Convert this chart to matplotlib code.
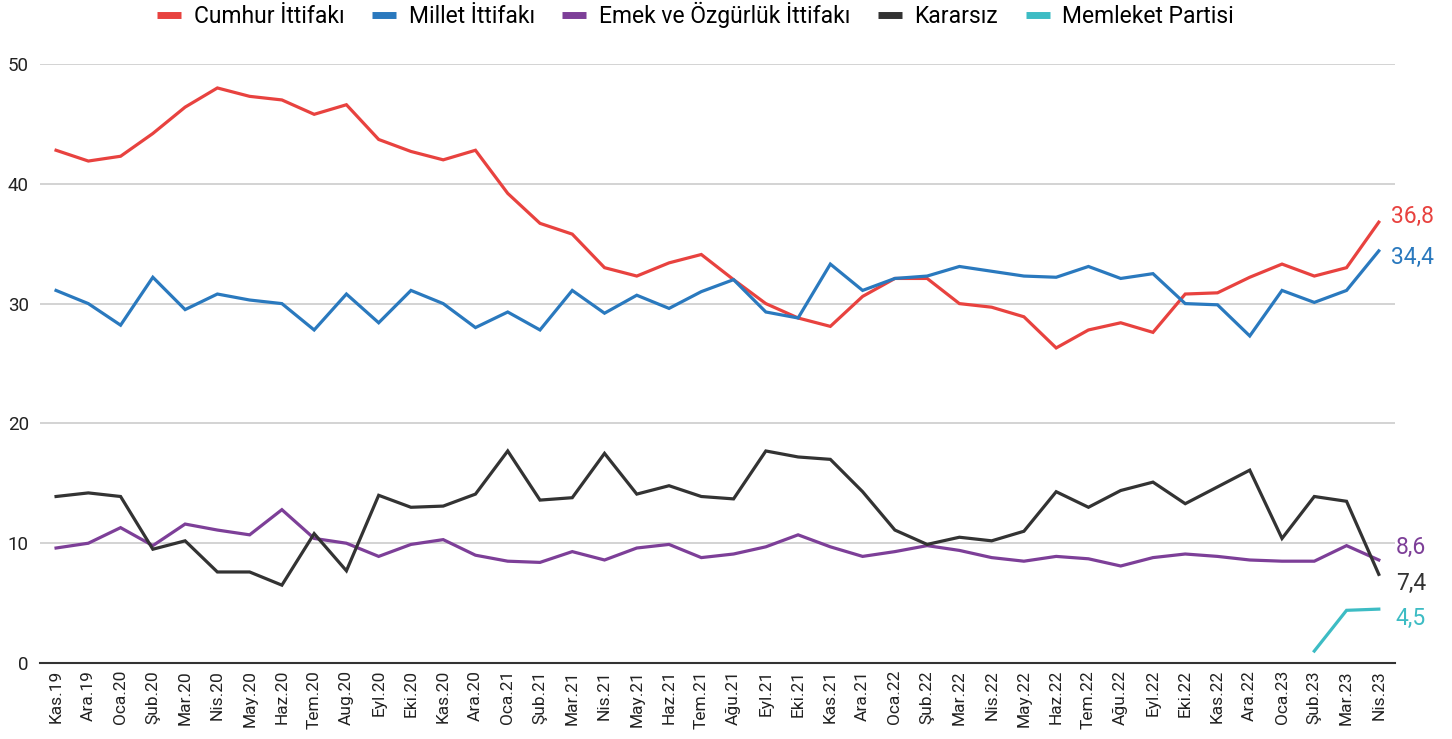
import matplotlib
matplotlib.use("Agg")
import matplotlib.pyplot as plt
from matplotlib.lines import Line2D

plt.rcParams['font.family'] = ['Roboto', 'DejaVu Sans']

months = ["Kas.19", "Ara.19", "Oca.20", "Şub.20", "Mar.20", "Nis.20", "May.20", "Haz.20",
          "Tem.20", "Aug.20", "Eyl.20", "Eki.20", "Kas.20", "Ara.20", "Oca.21", "Şub.21",
          "Mar.21", "Nis.21", "May.21", "Haz.21", "Tem.21", "Ağu.21", "Eyl.21", "Eki.21",
          "Kas.21", "Ara.21", "Oca.22", "Şub.22", "Mar.22", "Nis.22", "May.22", "Haz.22",
          "Tem.22", "Ağu.22", "Eyl.22", "Eki.22", "Kas.22", "Ara.22", "Oca.23", "Şub.23",
          "Mar.23", "Nis.23"]

cumhur = [42.8, 41.9, 42.3, 44.2, 46.4, 48.0, 47.3, 47.0, 45.8, 46.6, 43.7, 42.7, 42.0, 42.8,
          39.2, 36.7, 35.8, 33.0, 32.3, 33.4, 34.1, 32.0, 30.0, 28.8, 28.1, 30.6, 32.1, 32.1,
          30.0, 29.7, 28.9, 26.3, 27.8, 28.4, 27.6, 30.8, 30.9, 32.2, 33.3, 32.3, 33.0, 36.8]

millet = [31.1, 30.0, 28.2, 32.2, 29.5, 30.8, 30.3, 30.0, 27.8, 30.8, 28.4, 31.1, 30.0, 28.0,
          29.3, 27.8, 31.1, 29.2, 30.7, 29.6, 31.0, 32.0, 29.3, 28.8, 33.3, 31.1, 32.1, 32.3,
          33.1, 32.7, 32.3, 32.2, 33.1, 32.1, 32.5, 30.0, 29.9, 27.3, 31.1, 30.1, 31.1, 34.4]

emek = [9.6, 10.0, 11.3, 9.8, 11.6, 11.1, 10.7, 12.8, 10.4, 10.0, 8.9, 9.9, 10.3, 9.0,
        8.5, 8.4, 9.3, 8.6, 9.6, 9.9, 8.8, 9.1, 9.7, 10.7, 9.7, 8.9, 9.3, 9.8,
        9.4, 8.8, 8.5, 8.9, 8.7, 8.1, 8.8, 9.1, 8.9, 8.6, 8.5, 8.5, 9.8, 8.6]

kararsiz = [13.9, 14.2, 13.9, 9.5, 10.2, 7.6, 7.6, 6.5, 10.8, 7.7, 14.0, 13.0, 13.1, 14.1,
            17.7, 13.6, 13.8, 17.5, 14.1, 14.8, 13.9, 13.7, 17.7, 17.2, 17.0, 14.3, 11.1, 9.9,
            10.5, 10.2, 11.0, 14.3, 13.0, 14.4, 15.1, 13.3, 14.7, 16.1, 10.4, 13.9, 13.5, 7.4]

memleket_months = ["Şub.23", "Mar.23", "Nis.23"]
memleket = [1.0, 4.4, 4.5]

series = [
    ("Cumhur İttifakı", cumhur, "#E8423F", months),
    ("Millet İttifakı", millet, "#2A79BE", months),
    ("Emek ve Özgürlük İttifakı", emek, "#7D3F98", months),
    ("Kararsız", kararsiz, "#333333", months),
    ("Memleket Partisi", memleket, "#3DBCC4", memleket_months),
]

fig = plt.figure(figsize=(14.52, 7.39), dpi=100)
ax = fig.add_axes([0.0275, 0.1028, 0.9332, 0.8106])

idx = {m: i for i, m in enumerate(months)}
handles = []
for name, vals, color, mlist in series:
    xs = [idx[m] for m in mlist]
    ax.plot(xs, vals, color=color, lw=2.3, solid_joinstyle='miter', zorder=3)
    handles.append(Line2D([0], [0], color=color, lw=5, solid_capstyle='butt'))

# end labels (pixel offsets: dx, dy)
offsets = {"Cumhur İttifakı": (12, 6), "Millet İttifakı": (12, -7),
           "Emek ve Özgürlük İttifakı": (17, 13), "Kararsız": (17, -9),
           "Memleket Partisi": (17, -9)}
for name, vals, color, mlist in series:
    dx, dy = offsets[name]
    ax.annotate(f"{vals[-1]:.1f}".replace(".", ","),
                xy=(idx[mlist[-1]], vals[-1]), xytext=(dx, dy), textcoords='offset pixels',
                color=color, fontsize=16.5, va='center', ha='left',
                annotation_clip=False)

ax.set_xlim(-0.5, len(months) - 0.5)
ax.set_ylim(0, 50)
ax.set_yticks([0, 10, 20, 30, 40, 50])
ax.set_xticks(range(len(months)))
ax.set_xticklabels(months, rotation=90, fontsize=12.5, color="#222222")
ax.tick_params(axis='y', labelsize=13.5, colors="#222222", length=0, pad=8)
ax.tick_params(axis='x', length=0, pad=5)
ax.grid(axis='y', color="#CCCCCC", lw=1.2)
ax.set_axisbelow(True)
for s in ['top', 'right', 'left']:
    ax.spines[s].set_visible(False)
ax.spines['bottom'].set_color("#333333")
ax.spines['bottom'].set_linewidth(1.5)

fig.legend(handles, [s[0] for s in series], loc='upper center', bbox_to_anchor=(0.479, 1.025),
           ncol=5, frameon=False, fontsize=16.5, handlelength=1.05, columnspacing=1.2,
           handletextpad=0.55)

fig.savefig("out.png", dpi=100, facecolor='white')
